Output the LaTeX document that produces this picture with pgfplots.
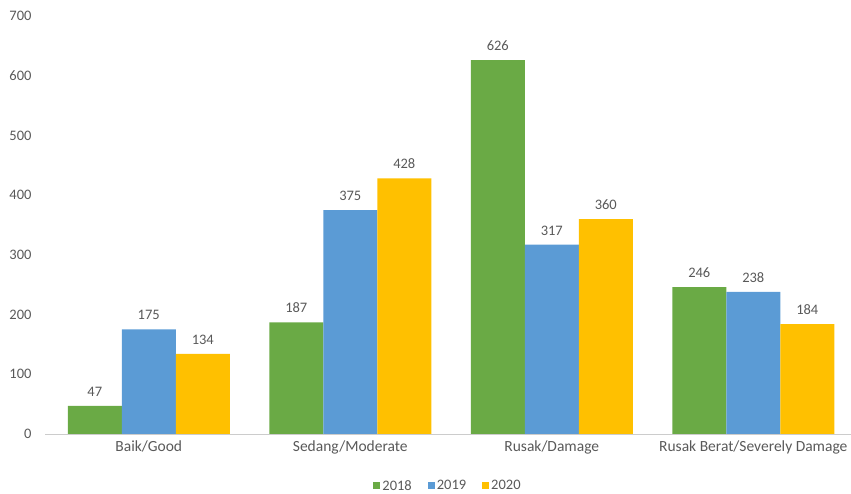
\documentclass[border=0pt]{standalone}
\usepackage{pgfplots}
\pgfplotsset{compat=1.18}
\usepackage{fontspec}
\setmainfont{Carlito}
\definecolor{cgreen}{HTML}{6AAA45}
\definecolor{cblue}{HTML}{5B9BD5}
\definecolor{cgold}{HTML}{FFC000}
\definecolor{ctext}{HTML}{595959}
\newcommand{\lf}{\fontsize{14.5}{16}\selectfont}
\begin{document}
\begin{tikzpicture}[x=1pt,y=1pt]
\path[use as bounding box] (-45,-60) rectangle (806,434);
\begin{axis}[
  at={(0,0)}, anchor=south west,
  scale only axis, width=806pt, height=418pt,
  ybar=0pt, bar width=54pt,
  ymin=0, ymax=700, ytick={0,100,...,700},
  xmin=-0.515, xmax=3.485,
  xtick={0,1,2,3},
  xticklabels={Baik/Good, Sedang/Moderate, Rusak/Damage, Rusak Berat/Severely Damage},
  axis y line=none,
  axis x line*=bottom,
  x axis line style={draw=black!20, -},
  major tick length=0pt,
  tick style={draw=none},
  xticklabel style={font=\fontsize{15.5}{17}\selectfont, text=ctext, yshift=-3pt},
  /pgf/number format/assume math mode=true,
  nodes near coords,
  every node near coord/.append style={font=\lf, text=ctext, yshift=6pt},
  legend style={at={(0.5,-0.124)}, anchor=center, draw=none, legend columns=3,
    font=\lf, text=ctext, fill=none, inner sep=0pt,
    /tikz/every even column/.append style={column sep=14pt}},
  legend image code/.code={\fill[#1] (0pt,-3.5pt) rectangle (7pt,3.5pt);},
]
\addplot[fill=cgreen, draw=none] coordinates {(0,47) (1,187) (2,626) (3,246)};
\addplot[fill=cblue, draw=none] coordinates {(0,175) (1,375) (2,317) (3,238)};
\addplot[fill=cgold, draw=none] coordinates {(0,134) (1,428) (2,360) (3,184)};
\legend{2018,2019,2020}
\end{axis}
\foreach \v in {0,100,...,700} {
  \node[anchor=east, font=\lf, text=ctext] at (-10,{\v/700*418}) {\v};
}
\end{tikzpicture}
\end{document}
